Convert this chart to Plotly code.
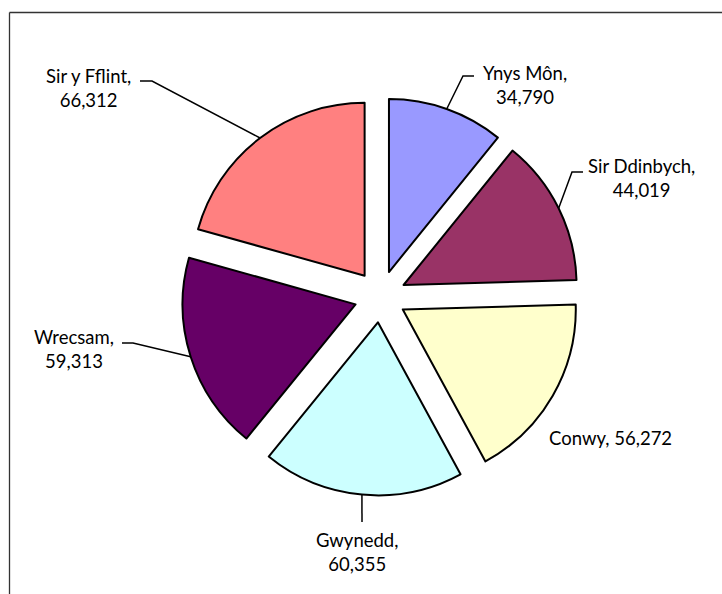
import math
import plotly.graph_objects as go

# ---- data ----
labels = ["Ynys Môn", "Sir Ddinbych", "Conwy", "Gwynedd", "Wrecsam", "Sir y Fflint"]
values = [34790, 44019, 56272, 60355, 59313, 66312]
colors = ["#9999FF", "#993366", "#FFFFCC", "#CCFFFF", "#660066", "#FF8080"]

# ---- layout geometry (pixels) ----
W, H = 722, 594
CX, CY = 380.3, 296.5      # pie centre
R = 173                    # pie radius
PULL = 0.15                # explode fraction

# label centres and leader elbows (pixels); None = no leader
label_pos = {
    "Ynys Môn": (525, 85),
    "Sir Ddinbych": (641, 178),
    "Conwy": (610, 438),
    "Gwynedd": (357, 552),
    "Wrecsam": (74, 349),
    "Sir y Fflint": (88, 88),
}
leader = {
    "Ynys Môn": [(463, 76), (474, 76)],
    "Sir Ddinbych": [(572, 172), (583, 172)],
    "Conwy": None,
    "Gwynedd": [(362, 522)],
    "Wrecsam": [(133, 343), (122, 343)],
    "Sir y Fflint": [(152, 81), (140, 81)],
}

def px(x):
    return x / W

def py(y):
    return 1 - y / H

half = R * (1 + PULL)
fig = go.Figure(go.Pie(
    labels=labels, values=values, sort=False, direction="clockwise", rotation=0,
    pull=[PULL] * len(values),
    marker=dict(colors=colors, line=dict(color="black", width=2)),
    textinfo="none", hoverinfo="label+value", showlegend=False,
    domain=dict(x=[px(CX - half), px(CX + half)], y=[py(CY + half), py(CY - half)]),
))

total = sum(values)
cum = 0
shapes = []
annotations = []
for lab, v in zip(labels, values):
    mid = (cum + v / 2) / total * 2 * math.pi
    cum += v
    dx, dy = math.sin(mid), -math.cos(mid)
    sx = CX + (R + R * PULL) * dx
    sy = CY + (R + R * PULL) * dy
    text = f"{lab}, {v:,}" if lab == "Conwy" else f"{lab},<br>{v:,}"
    lx, ly = label_pos[lab]
    annotations.append(dict(x=px(lx), y=py(ly), xref="paper", yref="paper",
                            text=text, showarrow=False, xanchor="center", yanchor="middle",
                            align="center",
                            font=dict(family="Lato", size=18.5, color="black")))
    if leader[lab]:
        pts = [(sx, sy)] + leader[lab]
        path = "M " + " L ".join(f"{px(a):.5f},{py(b):.5f}" for a, b in pts)
        shapes.append(dict(type="path", xref="paper", yref="paper", path=path,
                           line=dict(color="black", width=1.5)))

# chart frame (cut off at right and bottom)
shapes.append(dict(type="line", xref="paper", yref="paper", x0=px(9.5), x1=1.01,
                   y0=py(12.5), y1=py(12.5), line=dict(color="#333333", width=1.3)))
shapes.append(dict(type="line", xref="paper", yref="paper", x0=px(9.5), x1=px(9.5),
                   y0=py(12.5), y1=-0.01, line=dict(color="#333333", width=1.3)))

fig.update_layout(width=W, height=H, margin=dict(l=0, r=0, t=0, b=0),
                  paper_bgcolor="white", plot_bgcolor="white",
                  shapes=shapes, annotations=annotations)
fig.write_html("out.html", config={"displayModeBar": False},
               post_script="document.body.style.margin='0';document.body.style.overflow='hidden';")
